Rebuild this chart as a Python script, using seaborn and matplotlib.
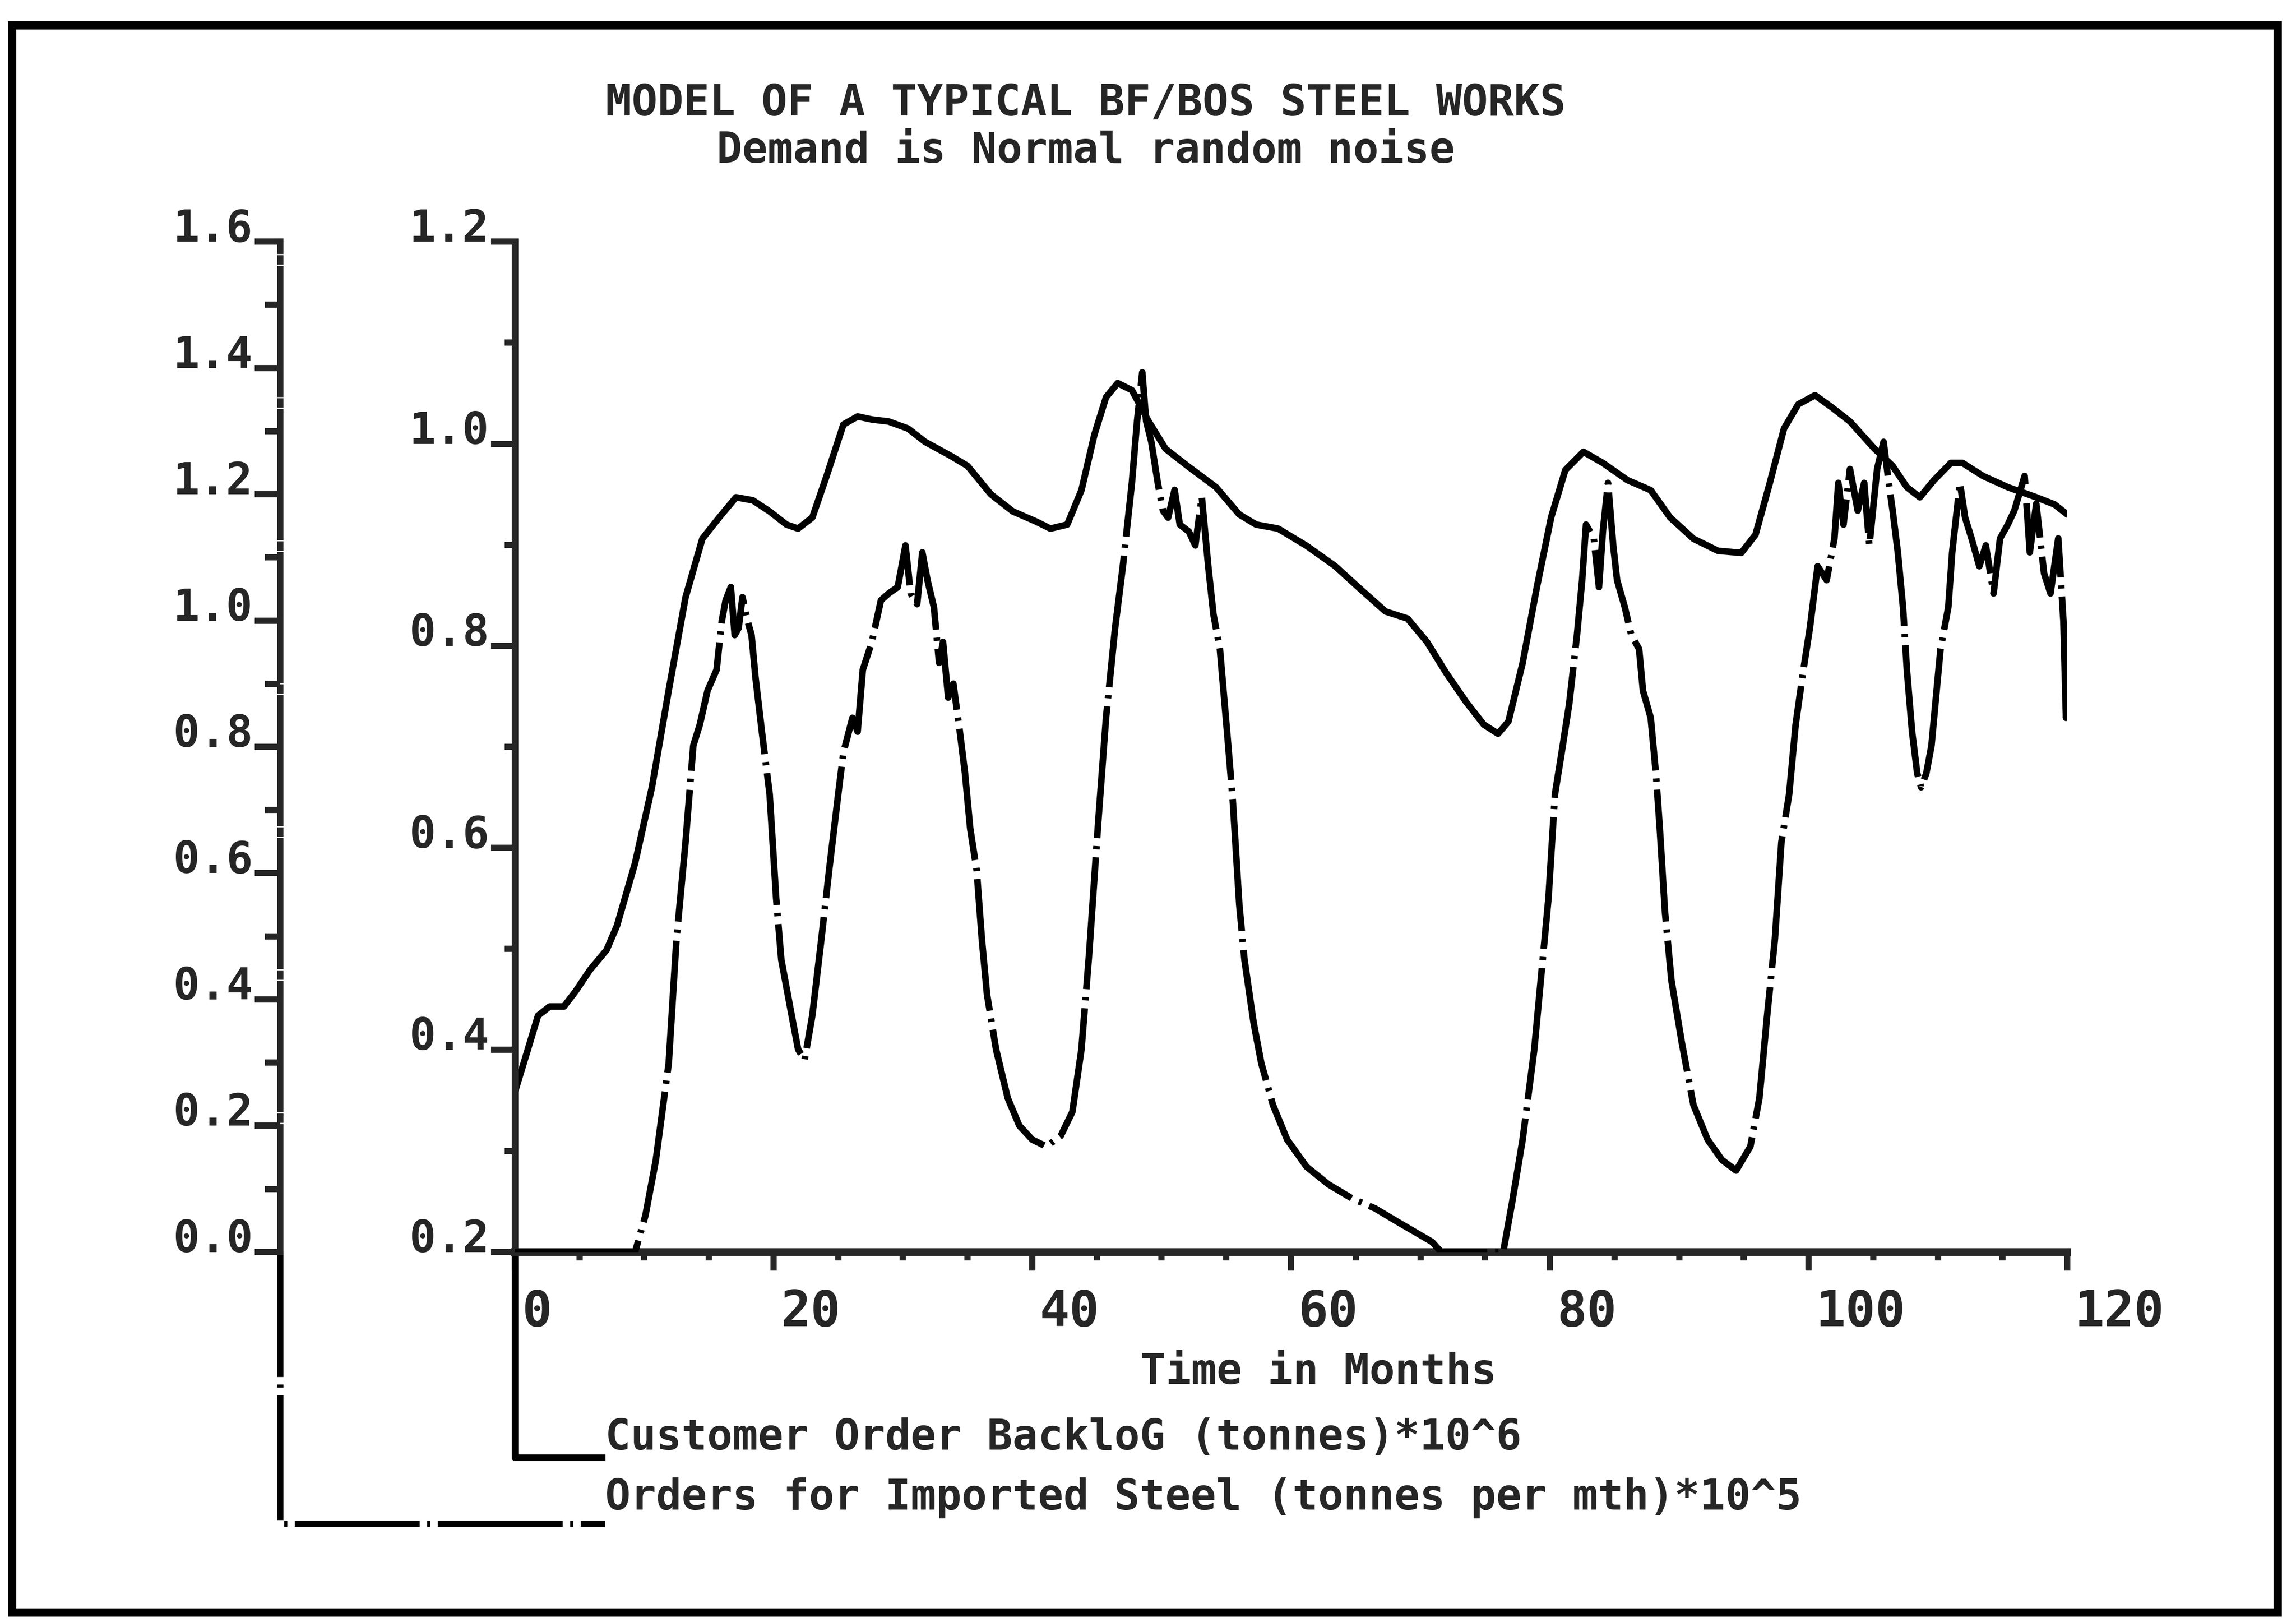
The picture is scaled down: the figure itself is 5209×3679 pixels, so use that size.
import matplotlib
matplotlib.use("Agg")
import matplotlib.pyplot as plt
import matplotlib.transforms as mtransforms
from matplotlib.patches import Rectangle
from matplotlib.ticker import MultipleLocator
import seaborn as sns
import numpy as np

# Customer Order Backlog (tonnes)*10^6  -> inner axis 0.2 .. 1.2
backlog_month = [0, 1.0, 1.8, 2.7, 3.8, 4.7, 5.8, 7.1, 7.9, 9.3, 10.6, 11.9, 13.2, 14.5,
                 15.8, 17.1, 18.4, 19.7, 21.0, 21.9, 23.0, 24.1, 25.4, 26.5, 27.6, 28.9,
                 30.4, 31.7, 33.7, 35.0, 36.8, 38.5, 40.3, 41.4, 42.7, 43.8, 44.8, 45.7,
                 46.6, 47.7, 49.0, 50.3, 52.0, 54.2, 56.0, 57.3, 59.0, 61.2, 63.4, 65.2,
                 67.3, 69.0, 70.5, 72.0, 73.5, 74.9, 76.0, 76.8, 77.9, 79.0, 80.1, 81.2,
                 82.6, 84.1, 86.0, 87.8, 89.3, 91.1, 93.0, 94.8, 95.9, 97.0, 98.1, 99.2,
                 100.5, 101.8, 103.2, 105.1, 106.5, 107.6, 108.6, 109.7, 111.0, 111.9,
                 113.5, 115.4, 117.6, 119.0, 120.0]
backlog = [0.358, 0.400, 0.434, 0.443, 0.443, 0.458, 0.479, 0.499, 0.523, 0.585, 0.660,
           0.756, 0.848, 0.906, 0.927, 0.947, 0.944, 0.933, 0.920, 0.916, 0.927, 0.968,
           1.019, 1.027, 1.024, 1.022, 1.015, 1.002, 0.988, 0.978, 0.950, 0.933, 0.923,
           0.916, 0.920, 0.954, 1.009, 1.046, 1.060, 1.053, 1.022, 0.995, 0.978, 0.957,
           0.930, 0.920, 0.916, 0.899, 0.879, 0.858, 0.834, 0.827, 0.804, 0.773, 0.745,
           0.722, 0.713, 0.725, 0.783, 0.858, 0.927, 0.974, 0.992, 0.981, 0.964, 0.954,
           0.927, 0.906, 0.894, 0.892, 0.910, 0.961, 1.015, 1.039, 1.048, 1.036, 1.022,
           0.995, 0.978, 0.957, 0.947, 0.964, 0.981, 0.981, 0.968, 0.957, 0.947, 0.940,
           0.930]

# Orders for Imported Steel (tonnes per mth)*10^5 -> outer axis 0.0 .. 1.6
imports_month = [0, 9.3, 10.1, 10.9, 11.9, 12.5, 13.2, 13.8, 14.3, 14.9, 15.6, 16.0, 16.3,
                 16.7, 17.0, 17.3, 17.6, 18.0, 18.3, 18.6, 19.1, 19.7, 20.2, 20.6, 21.3,
                 21.9, 22.4, 23.0, 23.7, 24.3, 25.0, 25.4, 26.1, 26.5, 26.9, 27.6, 28.3,
                 28.9, 29.6, 30.2, 30.6, 31.1, 31.5, 31.9, 32.4, 32.8, 33.1, 33.5, 33.9,
                 34.4, 34.8, 35.2, 35.7, 36.1, 36.5, 37.2, 38.1, 39.0, 40.0, 41.1, 42.2,
                 43.1, 43.8, 44.4, 45.1, 45.7, 46.4, 47.0, 47.7, 48.1, 48.5, 48.8, 49.2,
                 49.7, 50.1, 50.5, 51.0, 51.4, 52.1, 52.6, 53.1, 53.6, 54.0, 54.5, 55.1,
                 55.5, 56.0, 56.4, 57.1, 57.7, 58.6, 59.7, 61.2, 62.9, 64.7, 66.5, 68.3,
                 70.9, 71.6, 76.4, 77.1, 77.9, 78.8, 79.3, 79.9, 80.4, 81.0, 81.5, 82.1,
                 82.5, 82.8, 83.4, 83.8, 84.1, 84.5, 84.9, 85.2, 85.8, 86.3, 86.9, 87.2,
                 87.8, 88.2, 88.5, 88.9, 89.4, 90.2, 91.1, 92.2, 93.3, 94.4, 95.5, 96.2,
                 96.8, 97.4, 97.9, 98.5, 99.0, 99.6, 100.1, 100.7, 101.4, 102.0, 102.3,
                 102.7, 103.2, 103.8, 104.3, 104.7, 105.3, 105.8, 106.2, 106.5, 106.9,
                 107.3, 107.6, 108.0, 108.4, 108.7, 109.1, 109.5, 109.8, 110.2, 110.8,
                 111.1, 111.7, 112.1, 112.6, 113.2, 113.7, 114.3, 114.8, 115.4, 115.9,
                 116.7, 117.1, 117.6, 118.2, 118.7, 119.3, 119.7, 119.9, 120.0]
imports = [0.0, 0.0, 0.058, 0.145, 0.299, 0.496, 0.649, 0.802, 0.835, 0.889, 0.922, 0.999,
           1.032, 1.053, 0.977, 0.988, 1.037, 0.999, 0.977, 0.911, 0.824, 0.725, 0.561,
           0.463, 0.386, 0.321, 0.304, 0.375, 0.496, 0.605, 0.725, 0.791, 0.846, 0.824,
           0.922, 0.966, 1.032, 1.043, 1.053, 1.119, 1.043, 1.026, 1.108, 1.064, 1.021,
           0.933, 0.966, 0.878, 0.900, 0.824, 0.758, 0.671, 0.605, 0.496, 0.408, 0.321,
           0.244, 0.200, 0.178, 0.167, 0.184, 0.222, 0.321, 0.474, 0.682, 0.846, 0.988,
           1.086, 1.218, 1.316, 1.393, 1.316, 1.283, 1.218, 1.174, 1.163, 1.207, 1.152,
           1.141, 1.119, 1.196, 1.086, 1.010, 0.955, 0.813, 0.714, 0.550, 0.463, 0.364,
           0.299, 0.233, 0.178, 0.135, 0.107, 0.085, 0.069, 0.047, 0.016, 0.0, 0.0,
           0.080, 0.178, 0.321, 0.430, 0.561, 0.725, 0.802, 0.868, 0.977, 1.064, 1.152,
           1.130, 1.053, 1.141, 1.218, 1.119, 1.064, 1.021, 0.977, 0.955, 0.889, 0.846,
           0.758, 0.671, 0.539, 0.430, 0.332, 0.233, 0.178, 0.146, 0.129, 0.167, 0.244,
           0.375, 0.496, 0.649, 0.725, 0.835, 0.922, 0.988, 1.086, 1.064, 1.130, 1.218,
           1.152, 1.240, 1.174, 1.218, 1.119, 1.240, 1.283, 1.218, 1.174, 1.108, 1.021,
           0.922, 0.824, 0.758, 0.736, 0.758, 0.802, 0.868, 0.955, 1.021, 1.108, 1.218,
           1.163, 1.130, 1.086, 1.119, 1.043, 1.130, 1.152, 1.174, 1.229, 1.108, 1.185,
           1.075, 1.043, 1.130, 0.999, 0.846, 0.889]

x_major = [0, 20, 40, 60, 80, 100, 120]
inner_major = [0.2, 0.4, 0.6, 0.8, 1.0, 1.2]
outer_major = [0.0, 0.2, 0.4, 0.6, 0.8, 1.0, 1.2, 1.4, 1.6]

title_1 = "MODEL OF A TYPICAL BF/BOS STEEL WORKS"
title_2 = "Demand is Normal random noise"
x_label = "Time in Months"
label_backlog = "Customer Order BackloG (tonnes)*10^6"
label_imports = "Orders for Imported Steel (tonnes per mth)*10^5"

sns.set_style("ticks")
plt.rcParams['font.family'] = ['DejaVu Sans Mono', 'DejaVu Sans']
plt.rcParams['font.weight'] = 'bold'

dashdot = (0, (20, 1.2, 0.5, 1.2))
LW = 3.6

fig = plt.figure(figsize=(5209 / 300, 3679 / 300), dpi=300)
ax = fig.add_axes([0.2242, 0.2281, 0.9004 - 0.2242, 0.8510 - 0.2281])
ax2 = ax.twinx()

sns.lineplot(x=backlog_month, y=backlog, ax=ax, color='black', lw=LW,
             estimator=None, sort=False)
sns.lineplot(x=imports_month, y=imports, ax=ax2, color='black', lw=LW,
             estimator=None, sort=False, linestyle=dashdot)

ax.set_xlim(0, 120)
ax.set_ylim(0.2, 1.2)
ax2.set_ylim(0.0, 1.6)
ax.set_xlabel('')
ax.set_ylabel('')
ax2.set_ylabel('')

# spines
for s in ['top', 'right']:
    ax.spines[s].set_visible(False)
for s in ['top', 'right', 'bottom']:
    ax2.spines[s].set_visible(False)
ax.spines['left'].set_linewidth(3.6)
ax.spines['bottom'].set_linewidth(4.2)
ax2.spines['left'].set_visible(True)
ax2.spines['left'].set_position(('axes', -0.151))
ax2.spines['left'].set_linewidth(3.4)
ax2.spines['left'].set_linestyle(dashdot)
ax2.yaxis.set_ticks_position('left')
ax2.yaxis.set_label_position('left')

# ticks
ax.set_xticks(x_major)
ax.xaxis.set_minor_locator(MultipleLocator(5))
ax.set_yticks(inner_major)
ax.yaxis.set_minor_locator(MultipleLocator(0.1))
ax.set_yticklabels([f"{v:.1f}" for v in inner_major])
ax2.set_yticks(outer_major)
ax2.yaxis.set_minor_locator(MultipleLocator(0.1))
ax2.set_yticklabels([f"{v:.1f}" for v in outer_major])

ax.tick_params(axis='x', which='major', direction='out', length=10, width=3.4,
               labelsize=27, pad=10)
ax.tick_params(axis='x', which='minor', direction='out', length=4.5, width=3.4)
ax.tick_params(axis='y', which='major', direction='out', length=13, width=3.4,
               labelsize=24, pad=1)
ax.tick_params(axis='y', which='minor', direction='out', length=5.5, width=3.4)
ax2.tick_params(axis='y', which='major', direction='out', length=14, width=3.4,
                labelsize=24, pad=1, left=True, right=False, labelleft=True,
                labelright=False)
ax2.tick_params(axis='y', which='minor', direction='out', length=8.5, width=3.4,
                left=True, right=False)

shift = mtransforms.ScaledTranslation(4 / 72, 0, fig.dpi_scale_trans)
for lab in ax.get_xticklabels():
    lab.set_horizontalalignment('left')
    lab.set_transform(lab.get_transform() + shift)
for lab in ax.get_yticklabels() + ax2.get_yticklabels():
    lab.set_verticalalignment('baseline')

# legend connectors from the two axes
ax.plot([0, 0, 0.0582], [0, -0.2033, -0.2033], transform=ax.transAxes,
        clip_on=False, color='black', lw=3.6, solid_capstyle='butt')
ax.plot([-0.151, -0.151, 0.0582], [0, -0.2688, -0.2688], transform=ax.transAxes,
        clip_on=False, color='black', lw=3.4, linestyle=dashdot)

# texts
fig.text(0.4729, 0.9288, title_1, ha='center', va='baseline', fontsize=23.5,
         fontweight='bold')
fig.text(0.4729, 0.8997, title_2, ha='center', va='baseline', fontsize=23,
         fontweight='bold')
fig.text(0.5742, 0.1468, x_label, ha='center', va='baseline', fontsize=23,
         fontweight='bold')
fig.text(0.2636, 0.1063, label_backlog, ha='left', va='baseline', fontsize=23,
         fontweight='bold')
fig.text(0.2636, 0.0693, label_imports, ha='left', va='baseline', fontsize=23,
         fontweight='bold')

# page frame
fig.add_artist(Rectangle((0.0052, 0.006), 0.9919 - 0.0052, 0.9845 - 0.006,
                         transform=fig.transFigure, fill=False, lw=4.5,
                         edgecolor='black'))

fig.savefig('out.png', dpi=300)
